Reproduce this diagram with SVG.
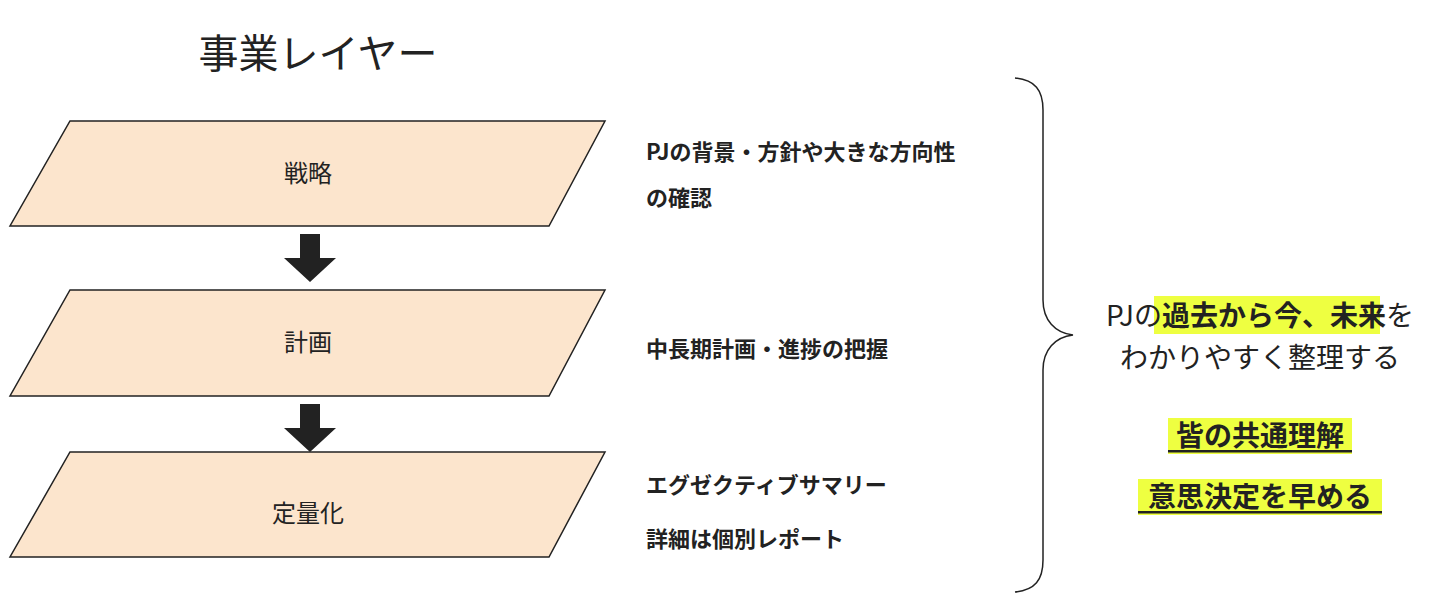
<svg xmlns="http://www.w3.org/2000/svg" width="1432" height="610" viewBox="0 0 1432 610">
<style>
text{font-family:"Noto Sans CJK JP","Noto Sans",sans-serif;fill:#222}
.layer{fill:#fce5cd;stroke:#222;stroke-width:1.5}
.lbl{font-size:24px;text-anchor:middle}
.desc{font-size:22px;font-weight:bold}
.hl{fill:#eeff41}
.big{font-size:28px;text-anchor:middle}
</style>
<rect width="1432" height="610" fill="#fff"/>
<text x="318" y="68" font-size="40" text-anchor="middle">事業レイヤー</text>
<g id="strategy"><polygon class="layer" points="70,121 605,121 549,226 10,226"/><text class="lbl" x="308" y="182">戦略</text></g>
<g id="plan"><polygon class="layer" points="70,290 605,290 549,396 10,396"/><text class="lbl" x="308" y="351">計画</text></g>
<g id="quant"><polygon class="layer" points="70,452 605,452 549,557 10,557"/><text class="lbl" x="308" y="522">定量化</text></g>
<g id="connectors" fill="#222">
<polygon points="300,234 320,234 320,258 336,258 310,282 284,258 300,258"/>
<polygon points="300,404 320,404 320,428 336,428 310,452 284,428 300,428"/>
</g>
<g id="descs">
<text class="desc" x="646" y="160">PJの背景・方針や大きな方向性</text>
<text class="desc" x="646" y="206">の確認</text>
<text class="desc" x="646" y="357">中長期計画・進捗の把握</text>
<text class="desc" x="646" y="493">エグゼクティブサマリー</text>
<text class="desc" x="646" y="547">詳細は個別レポート</text>
</g>
<path id="brace" d="M1015,78 C1035,80 1043,90 1043,110 L1043,300 C1043,320 1055,333 1073,335 C1055,337 1043,350 1043,370 L1043,560 C1043,580 1035,590 1015,592" fill="none" stroke="#222" stroke-width="1.5"/>
<g id="summary">
<rect class="hl" x="1154" y="296" width="226" height="38"/>
<text class="big" x="1260" y="326">PJの<tspan font-weight="bold">過去から今、未来</tspan>を</text>
<text class="big" x="1260" y="368">わかりやすく整理する</text>
<rect class="hl" x="1168" y="418" width="184" height="36"/>
<text class="big" x="1260" y="446" font-weight="bold">皆の共通理解</text>
<rect x="1168" y="450" width="184" height="2.5" fill="#222"/>
<rect class="hl" x="1138" y="479" width="244" height="36"/>
<text class="big" x="1260" y="507" font-weight="bold">意思決定を早める</text>
<rect x="1138" y="511" width="244" height="2.5" fill="#222"/>
</g>
</svg>
